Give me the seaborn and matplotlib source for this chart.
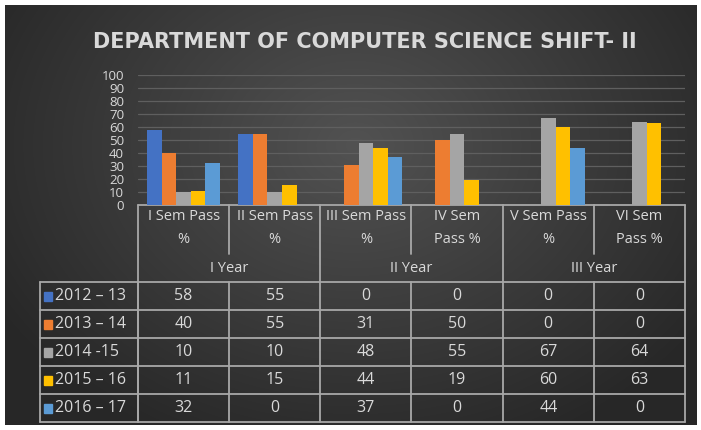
import numpy as np
import pandas as pd
import matplotlib
matplotlib.use("Agg")
import matplotlib.pyplot as plt
import matplotlib.transforms as mtransforms
from matplotlib.patches import Rectangle
import seaborn as sns

# ---- data ----
title = "DEPARTMENT OF COMPUTER SCIENCE SHIFT- II"
categories = ["I Sem Pass\n%", "II Sem Pass\n%", "III Sem Pass\n%", "IV Sem\nPass %", "V Sem Pass\n%", "VI Sem\nPass %"]
year_groups = ["I Year", "II Year", "III Year"]
series_names = ["2012 \u2013 13", "2013 \u2013 14", "2014 -15", "2015 \u2013 16", "2016 \u2013 17"]
v_2012_13 = [58, 55, 0, 0, 0, 0]
v_2013_14 = [40, 55, 31, 50, 0, 0]
v_2014_15 = [10, 10, 48, 55, 67, 64]
v_2015_16 = [11, 15, 44, 19, 60, 63]
v_2016_17 = [32, 0, 37, 0, 44, 0]
y_ticks = [0, 10, 20, 30, 40, 50, 60, 70, 80, 90, 100]

series_values = [v_2012_13, v_2013_14, v_2014_15, v_2015_16, v_2016_17]
colors = ["#4472C4", "#ED7D31", "#A5A5A5", "#FFC000", "#5B9BD5"]

rows = []
for name, vals in zip(series_names, series_values):
    for c, v in zip(categories, vals):
        rows.append({"cat": c, "series": name, "value": v})
df = pd.DataFrame(rows)

sns.set_theme(style="dark")
plt.rcParams["font.family"] = ["Open Sans", "DejaVu Sans"]

W, H = 701, 430
fig = plt.figure(figsize=(W / 100, H / 100), dpi=100)
fig.patch.set_facecolor("white")

def fx(px):
    return px / W

def fy(py):
    return 1 - py / H

# background gradient panel
bg = fig.add_axes([fx(5), fy(425), fx(692), (420) / H])
yy, xx = np.mgrid[0:420, 0:692]
r = np.sqrt(((xx - 350) / 420.0) ** 2 + ((yy - 140) / 330.0) ** 2)
r = np.clip(r, 0, 1)
c0 = np.array([0x52, 0x52, 0x52]) / 255.0
c1 = np.array([0x27, 0x27, 0x27]) / 255.0
img = c0[None, None, :] * (1 - r[..., None]) + c1[None, None, :] * r[..., None]
bg.imshow(img, aspect="auto", interpolation="bilinear")
bg.set_axis_off()

# main axes
ax_left, ax_right = 138, 685
ax_top, ax_bottom = 75, 205
ax = fig.add_axes([fx(ax_left), fy(ax_bottom), fx(ax_right - ax_left), (ax_bottom - ax_top) / H])
ax.set_facecolor("none")
sns.barplot(data=df, x="cat", y="value", hue="series", hue_order=series_names,
            order=categories, palette=colors, ax=ax, legend=False,
            linewidth=0, saturation=1, width=0.8)
ax.set_ylim(0, 100)
ax.set_xlim(-0.5, len(categories) - 0.5)
ax.set_yticks(y_ticks)
ax.set_yticklabels([str(t) for t in y_ticks], color="#d9d9d9", fontsize=9.5)
ax.set_xticks([])
ax.set_xlabel("")
ax.set_ylabel("")
ax.tick_params(axis="y", length=0, pad=10)
for s in ax.spines.values():
    s.set_visible(False)
ax.grid(False)
for t in y_ticks[1:]:
    ax.axhline(t, color="#5f5f5f", lw=0.9, zorder=0)
ax.set_zorder(2)

# ---- data table ----
trans = mtransforms.blended_transform_factory(ax.transData, fig.transFigure)
line_col = "#a8a8a8"
lw = 1.3
txt_col = "#d9d9d9"
n = len(categories)
x_edges = [i - 0.5 for i in range(n + 1)]

head_top = 205
sem_bottom = 254
year_bottom = 282
row_h = 28
table_bottom = year_bottom + row_h * len(series_names)
left_px = 40

fig.add_artist(plt.Line2D([x_edges[0], x_edges[-1]], [fy(head_top), fy(head_top)],
                          transform=trans, color=line_col, lw=lw))
for j, xe in enumerate(x_edges):
    if j % 2 == 0:
        fig.add_artist(plt.Line2D([xe, xe], [fy(head_top), fy(table_bottom)],
                                  transform=trans, color=line_col, lw=lw))
    else:
        fig.add_artist(plt.Line2D([xe, xe], [fy(head_top), fy(sem_bottom)],
                                  transform=trans, color=line_col, lw=lw))
        fig.add_artist(plt.Line2D([xe, xe], [fy(year_bottom), fy(table_bottom)],
                                  transform=trans, color=line_col, lw=lw))
for k in range(len(series_names) + 1):
    yv = fy(year_bottom + k * row_h)
    fig.add_artist(plt.Line2D([fx(left_px), fx(ax_right)], [yv, yv],
                              transform=fig.transFigure, color=line_col, lw=lw))
fig.add_artist(plt.Line2D([fx(left_px), fx(left_px)], [fy(year_bottom), fy(table_bottom)],
                          transform=fig.transFigure, color=line_col, lw=lw))
fig.add_artist(plt.Line2D([fx(ax_left), fx(ax_left)], [fy(year_bottom), fy(table_bottom)],
                          transform=fig.transFigure, color=line_col, lw=lw))

for i, c in enumerate(categories):
    fig.text(i, fy(228), c, transform=trans, ha="center", va="center",
             color=txt_col, fontsize=10.5, linespacing=1.75)
for g, name in enumerate(year_groups):
    fig.text(2 * g + 0.5, fy(268), name, transform=trans, ha="center", va="center",
             color=txt_col, fontsize=10.5)

for k, (name, vals) in enumerate(zip(series_names, series_values)):
    yc = fy(year_bottom + k * row_h + row_h / 2)
    fig.add_artist(Rectangle((fx(44), yc - 4.5 / H), 8 / W, 9 / H,
                             transform=fig.transFigure, color=colors[k]))
    fig.text(fx(55), yc, name, ha="left", va="center", color=txt_col, fontsize=11.5)
    for i, v in enumerate(vals):
        fig.text(i, yc, str(v), transform=trans, ha="center", va="center",
                 color=txt_col, fontsize=11.5)

fig.text(fx(365), fy(42), title, ha="center", va="center", color="#d9d9d9",
         fontsize=15, fontweight="bold", family=["DejaVu Sans"])

fig.savefig("out.png", dpi=100, facecolor=fig.get_facecolor())
